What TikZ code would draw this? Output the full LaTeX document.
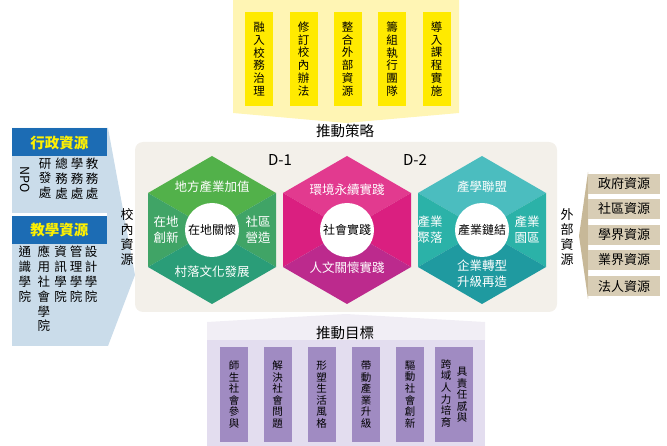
\documentclass[tikz,border=0pt]{standalone}
\usepackage{fontspec}
\newfontfamily\cjk{Noto Sans CJK TC}
\definecolor{stratpale}{HTML}{FFF5B4}
\definecolor{stratyellow}{HTML}{FFEA00}
\definecolor{goalpale}{HTML}{E3DDEF}
\definecolor{goalmist}{HTML}{F1EEF5}
\definecolor{goalpurple}{HTML}{A08BC2}
\definecolor{paneltan}{HTML}{F3F0EA}
\definecolor{headblue}{HTML}{1C6CB4}
\definecolor{headyellow}{HTML}{FFF100}
\definecolor{bodyblue}{HTML}{CADCEA}
\definecolor{outtan}{HTML}{D8CDB5}
\definecolor{wedgetan}{HTML}{C7B898}
\definecolor{greenTop}{HTML}{52B14A}
\definecolor{greenSide}{HTML}{40A466}
\definecolor{greenBot}{HTML}{2A9D78}
\definecolor{pinkTop}{HTML}{E23A8F}
\definecolor{pinkSide}{HTML}{DA1F80}
\definecolor{pinkBot}{HTML}{BC2A8D}
\definecolor{tealTop}{HTML}{4BBDBF}
\definecolor{tealSide}{HTML}{2BB2A8}
\definecolor{tealBot}{HTML}{1F9AA0}

\begin{document}
\begin{tikzpicture}[x=1pt,y=-1pt,
every node/.style={align=center,inner sep=0pt,font=\cjk},
tag/.style={font=\cjk\fontsize{14.5}{16}\selectfont},
stratbox/.style={fill=stratyellow,minimum width=28pt,minimum height=94pt,font=\cjk\fontsize{11.5}{12.8}\selectfont},
goalbox/.style={fill=goalpurple,minimum width=28pt,minimum height=95pt,font=\cjk\fontsize{10.5}{11.6}\selectfont},
outbox/.style={fill=outtan,minimum width=72pt,minimum height=20pt,font=\cjk\fontsize{13}{14}\selectfont},
headbox/.style={fill=headblue,text=headyellow,minimum width=95pt,minimum height=28pt,font=\cjk\bfseries\fontsize{14.5}{16}\selectfont},
unitcol/.style={anchor=north,font=\cjk\fontsize{12.5}{14.8}\selectfont},
hexlabel/.style={text=white,font=\cjk\fontsize{12.5}{16}\selectfont},
core/.style={circle,fill=white,minimum size=54pt,font=\cjk\fontsize{12}{13}\selectfont}
]
\useasboundingbox (0,0) rectangle (667,446);

% strategies on top
\fill[stratpale] (233,0) -- (459,0) -- (459,113) -- (346,123) -- (233,113) -- cycle;
\foreach \x/\txt [count=\i] in {259/融\\入\\校\\務\\治\\理, 303.5/修\\訂\\校\\內\\辦\\法, 347.5/整\\合\\外\\部\\資\\源, 392/籌\\組\\執\\行\\團\\隊, 436.5/導\\入\\課\\程\\實\\施}
  \node[stratbox] (strat\i) at (\x,59) {\txt};
\node[tag] (stratlabel) at (345,131) {推動策略};

% goals at the bottom
\fill[goalmist] (207,340) -- (207,322) -- (346,314) -- (485,322) -- (485,340) -- cycle;
\fill[goalpale] (207,340) rectangle (485,446);
\foreach \x/\txt [count=\i] in {234/師\\生\\社\\會\\參\\與, 277.5/解\\決\\社\\會\\問\\題, 321.5/形\\塑\\生\\活\\風\\格, 366/帶\\動\\產\\業\\升\\級, 410/驅\\動\\社\\會\\創\\新}
  \node[goalbox] (goal\i) at (\x,394.5) {\txt};
\node[goalbox,minimum width=38pt] (goal6) at (454,394.5) {};
\node[font=\cjk\fontsize{10.5}{11.6}\selectfont] (goal6a) at (446,393.5) {跨\\域\\人\\力\\培\\育};
\node[font=\cjk\fontsize{10.5}{11.6}\selectfont] (goal6b) at (462,395) {具\\責\\任\\感\\與};
\node[tag] (goallabel) at (345,333) {推動目標};

% school resources on the left
\fill[bodyblue] (12,128) -- (108,128) -- (135,275) -- (108,346) -- (12,346) -- cycle;
\fill[white] (12,213) rectangle (107,216);
\node[headbox] (admin) at (59.5,142.5) {行政資源};
\node[unitcol] (adm1) at (92,158) {教\\務\\處};
\node[unitcol] (adm2) at (77,158) {學\\務\\處};
\node[unitcol] (adm3) at (61.5,158) {總\\務\\處};
\node[unitcol] (adm4) at (45,158) {研\\發\\處};
\node[font=\cjk\fontsize{12.5}{14}\selectfont,rotate=-90] (adm5) at (25,180) {NPO};
\node[headbox] (teach) at (59.5,230) {教學資源};
\node[unitcol] (col1) at (91,246) {設\\計\\學\\院};
\node[unitcol] (col2) at (76,246) {管\\理\\學\\院};
\node[unitcol] (col3) at (60.5,246) {資\\訊\\學\\院};
\node[unitcol] (col4) at (44,246) {應\\用\\社\\會\\學\\院};
\node[unitcol] (col5) at (25,246) {通\\識\\學\\院};
\node[font=\cjk\fontsize{13}{15}\selectfont] (inner) at (127,237) {校\\內\\資\\源};

% outside resources on the right
\fill[wedgetan] (588,172) -- (579,236) -- (588,299) -- cycle;
\foreach \y/\txt [count=\i] in {184/政府資源, 209/社區資源, 235/學界資源, 260/業界資源, 286.5/法人資源}
  \node[outbox] (out\i) at (624,\y) {\txt};
\node[font=\cjk\fontsize{13}{15}\selectfont] (outer) at (567,237) {外\\部\\資\\源};

% the three hexagons
\fill[paneltan,rounded corners=8pt] (135,142) rectangle (557,312);
\foreach \cx/\ctop/\cside/\cbot [count=\i] in {212/greenTop/greenSide/greenBot, 347/pinkTop/pinkSide/pinkBot, 482/tealTop/tealSide/tealBot}{
  \fill[\ctop] (\cx-64,193) -- (\cx,156) -- (\cx+64,193) -- (\cx,230) -- cycle;
  \fill[\cside] (\cx+64,193) -- (\cx+64,267) -- (\cx,230) -- cycle;
  \fill[\cside] (\cx-64,193) -- (\cx-64,267) -- (\cx,230) -- cycle;
  \fill[\cbot] (\cx-64,267) -- (\cx,304) -- (\cx+64,267) -- (\cx,230) -- cycle;
} % <- end hexagons
\node[font=\cjk\fontsize{15}{17}\selectfont] (d1) at (280,160) {D-1};
\node[font=\cjk\fontsize{15}{17}\selectfont] (d2) at (415,160) {D-2};

\node[core] (care) at (212,230) {在地關懷};
\node[hexlabel] (care1) at (212,187) {地方產業加值};
\node[hexlabel] (care2) at (166,230) {在地\\創新};
\node[hexlabel] (care3) at (258,230) {社區\\營造};
\node[hexlabel] (care4) at (212,272) {村落文化發展};

\node[core] (practice) at (347,230) {社會實踐};
\node[hexlabel] (practice1) at (347,190) {環境永續實踐};
\node[hexlabel] (practice2) at (347,268) {人文關懷實踐};

\node[core] (link) at (482,230) {產業鏈結};
\node[hexlabel] (link1) at (482,187) {產學聯盟};
\node[hexlabel] (link2) at (430,230) {產業\\聚落};
\node[hexlabel] (link3) at (527,230) {產業\\園區};
\node[hexlabel] (link4) at (482,274) {企業轉型\\升級再造};
\end{tikzpicture}
\end{document}
